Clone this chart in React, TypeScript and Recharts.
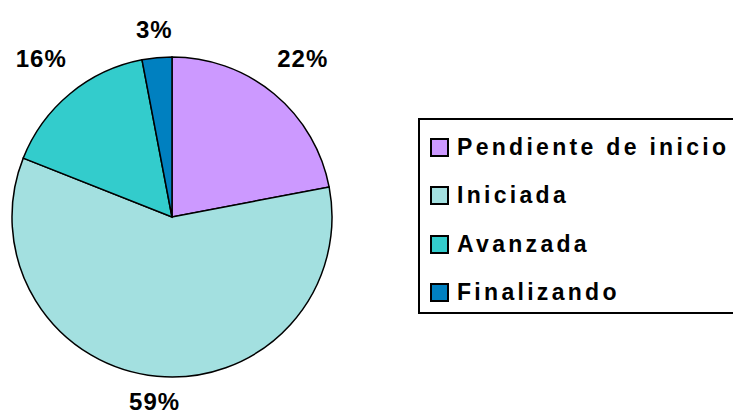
import { Legend, Pie, PieChart } from "recharts";

const categories = ["Pendiente de inicio", "Iniciada", "Avanzada", "Finalizando"];
const percentages = [22, 59, 16, 3];
const sliceColors = ["#CC99FF", "#A3E0E0", "#33CCCC", "#0080C0"];

const chartData = categories.map((name, i) => ({
  name,
  value: percentages[i],
  fill: sliceColors[i],
}));

const FONT = "'Liberation Sans', Arial, sans-serif";
const RAD = Math.PI / 180;

function renderPercentLabel(props: any) {
  const { cx, cy, midAngle, outerRadius, value } = props;
  const text = `${value}%`;
  const ux = Math.cos(-midAngle * RAD);
  const uy = Math.sin(-midAngle * RAD);
  const halfW = text.length * 10.5;
  const halfH = 4;
  // labels under the pie sit a little closer, as in the source
  const gap = uy > 0 ? 18 : 22;
  const dist = outerRadius + gap + halfW * Math.abs(ux) + halfH * Math.abs(uy);
  return (
    <text
      x={cx + dist * ux}
      y={cy + dist * uy}
      textAnchor="middle"
      dominantBaseline="central"
      fill="#000"
      fontFamily={FONT}
      fontWeight="bold"
      fontSize={24}
      letterSpacing={1}
    >
      {text}
    </text>
  );
}

function LegendBox(props: any) {
  const items = [...(props.payload || [])].sort(
    (a: any, b: any) => categories.indexOf(a.value) - categories.indexOf(b.value),
  );
  return (
    <div
      style={{
        border: "2.5px solid #000",
        borderRight: "none",
        width: 320,
        height: 196,
        boxSizing: "border-box",
        paddingTop: 3,
        paddingLeft: 10,
        background: "#fff",
      }}
    >
      {items.map((entry: any) => (
        <div
          key={entry.value}
          style={{ display: "flex", alignItems: "center", height: 48.5 }}
        >
          <span
            style={{
              width: 19,
              height: 19,
              boxSizing: "border-box",
              border: "2.5px solid #000",
              background: entry.color,
              marginRight: 8,
              display: "inline-block",
            }}
          />
          <span
            style={{
              fontFamily: FONT,
              fontWeight: "bold",
              fontSize: 23,
              letterSpacing: 3.3,
              color: "#000",
            }}
          >
            {entry.value}
          </span>
        </div>
      ))}
    </div>
  );
}

export default function App() {
  return (
    <div style={{ position: "absolute", left: 0, top: 0, background: "#fff" }}>
      <PieChart width={733} height={414} margin={{ top: 0, right: 0, bottom: 0, left: 0 }}>
        <Pie
          data={chartData}
          dataKey="value"
          nameKey="name"
          cx={172}
          cy={217}
          outerRadius={160}
          startAngle={90}
          endAngle={-270}
          stroke="#000"
          strokeWidth={1.5}
          label={renderPercentLabel}
          labelLine={false}
          isAnimationActive={false}
        />
        <Legend
          content={<LegendBox />}
          wrapperStyle={{ left: 418, top: 118, width: 320 }}
        />
      </PieChart>
    </div>
  );
}
